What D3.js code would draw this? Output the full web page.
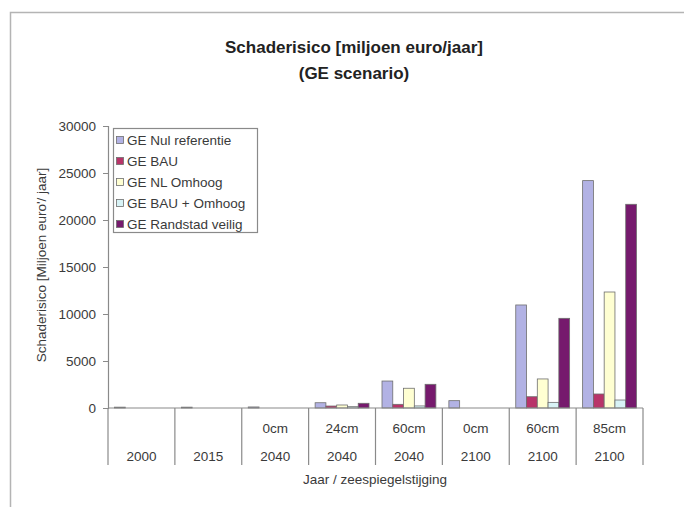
<!DOCTYPE html>
<html>
<head>
<meta charset="utf-8">
<script src="https://cdn.jsdelivr.net/npm/d3@7"></script>
<style>
  html, body { margin: 0; padding: 0; background: #fff; }
  svg { display: block; font-family: "Liberation Sans", Arial, sans-serif; }
</style>
</head>
<body>
<svg id="chart" width="684" height="507"></svg>
<script>
// Category labels: sea level rise (top row) and year (bottom row)
const seaLevels = ["", "", "0cm", "24cm", "60cm", "0cm", "60cm", "85cm"];
const years = ["2000", "2015", "2040", "2040", "2040", "2100", "2100", "2100"];

// Damage risk per scenario, million euro per year (null = not shown)
const seriesNames = ["GE Nul referentie", "GE BAU", "GE NL Omhoog", "GE BAU + Omhoog", "GE Randstad veilig"];
const nulReferentie   = [90, 90, 110, 560, 2870, 780, 10960, 24190];
const bau             = [null, null, null, 210, 390, null, 1200, 1490];
const nlOmhoog        = [null, null, null, 320, 2100, null, 3090, 12340];
const bauOmhoog       = [null, null, null, 140, 220, null, 600, 850];
const randstadVeilig  = [null, null, null, 500, 2520, null, 9540, 21670];
const seriesColors = ["#b2b2e4", "#b83469", "#ffffd2", "#d8f3f6", "#761a6d"];
const yTicks = [0, 5000, 10000, 15000, 20000, 25000, 30000];

const series = [nulReferentie, bau, nlOmhoog, bauOmhoog, randstadVeilig];

const svg = d3.select("#chart");
const axisColor = "#8a8a8a";
const textColor = "#3a3a3a";
const fs = 13.5;

// Outer frame (open to the right and bottom)
svg.append("path")
  .attr("d", "M10.5,507 V12.5 H684")
  .attr("fill", "none").attr("stroke", "#b4b4b4").attr("stroke-width", 1.5);

// Title
const title = svg.append("text")
  .attr("text-anchor", "middle").attr("font-weight", "bold")
  .attr("font-size", 17).attr("fill", "#222");
title.append("tspan").attr("x", 354).attr("y", 53).text("Schaderisico [miljoen euro/jaar]");
title.append("tspan").attr("x", 354).attr("y", 79).text("(GE scenario)");

const plotLeft = 108, plotRight = 643, plotTop = 126, plotBottom = 408;

const x = d3.scaleBand().domain(d3.range(years.length)).range([plotLeft, plotRight]);
const xInner = d3.scaleBand().domain(d3.range(series.length))
  .range([6.5, x.bandwidth() - 6.5]);
const y = d3.scaleLinear().domain([0, 30000]).range([plotBottom, plotTop]);

// Bars
series.forEach((vals, si) => {
  svg.append("g").selectAll("rect")
    .data(vals.map((v, i) => ({ v, i })).filter(d => d.v != null))
    .join("rect")
    .attr("x", d => x(d.i) + xInner(si))
    .attr("y", d => y(d.v))
    .attr("width", xInner.bandwidth())
    .attr("height", d => y(0) - y(d.v))
    .attr("fill", seriesColors[si])
    .attr("stroke", "#6e6e6e").attr("stroke-width", 0.8);
});

// Y axis
const yAxis = svg.append("g").attr("transform", `translate(${plotLeft},0)`)
  .call(d3.axisLeft(y).tickValues(yTicks).tickSize(5).tickPadding(7).tickFormat(d3.format("d")));
yAxis.select(".domain").attr("stroke", axisColor).attr("stroke-width", 1.2);
yAxis.selectAll(".tick line").attr("stroke", axisColor);
yAxis.selectAll(".tick text").attr("font-size", fs).attr("fill", textColor)
  .attr("font-family", "Liberation Sans, Arial, sans-serif");

// X axis baseline and category separators
svg.append("line").attr("x1", plotLeft).attr("x2", plotRight).attr("y1", y(0)).attr("y2", y(0))
  .attr("stroke", axisColor).attr("stroke-width", 1.2);
svg.append("g").selectAll("line")
  .data(d3.range(years.length + 1))
  .join("line")
  .attr("x1", i => i < years.length ? x(i) : plotRight)
  .attr("x2", i => i < years.length ? x(i) : plotRight)
  .attr("y1", y(0)).attr("y2", 465)
  .attr("stroke", axisColor).attr("stroke-width", 1.2);

// Category labels
const cats = svg.append("g").attr("font-size", fs).attr("fill", textColor).attr("text-anchor", "middle");
cats.selectAll("text.sea").data(seaLevels).join("text").attr("class", "sea")
  .attr("x", (d, i) => x(i) + x.bandwidth() / 2).attr("y", 433).text(d => d);
cats.selectAll("text.year").data(years).join("text").attr("class", "year")
  .attr("x", (d, i) => x(i) + x.bandwidth() / 2).attr("y", 461).text(d => d);

// Axis titles
svg.append("text").attr("x", 375).attr("y", 484).attr("text-anchor", "middle")
  .attr("font-size", fs).attr("fill", textColor).text("Jaar / zeespiegelstijging");
svg.append("text").attr("transform", "translate(46,265) rotate(-90)")
  .attr("text-anchor", "middle").attr("font-size", fs).attr("fill", textColor)
  .text("Schaderisico [Miljoen euro'/ jaar]");

// Legend
const lg = svg.append("g");
lg.append("rect").attr("x", 113.5).attr("y", 128.5).attr("width", 144).attr("height", 104)
  .attr("fill", "#fff").attr("stroke", "#8a8a8a").attr("stroke-width", 1.2);
seriesNames.forEach((name, i) => {
  const cy = 140 + i * 21;
  lg.append("rect").attr("x", 116.5).attr("y", cy - 3.5).attr("width", 7).attr("height", 7)
    .attr("fill", seriesColors[i]).attr("stroke", "#6e6e6e").attr("stroke-width", 0.8);
  lg.append("text").attr("x", 127).attr("y", cy + 4.5).attr("font-size", fs)
    .attr("fill", textColor).text(name);
});
</script>
</body>
</html>
